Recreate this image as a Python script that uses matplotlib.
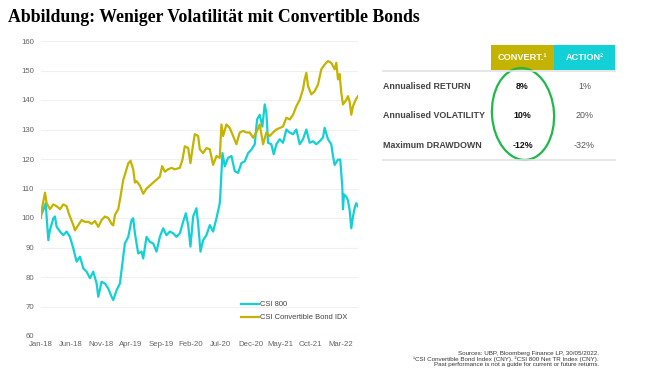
import matplotlib.pyplot as plt
from matplotlib.patches import Ellipse, Rectangle
from matplotlib.lines import Line2D

# months since Jan-18
conv_months = [0, 0.11, 0.67, 0.94, 1.5, 2.06, 2.61, 3.17, 3.72, 4.28, 4.56, 4.83, 5.39, 5.67,
               6.22, 6.78, 7.33, 7.89, 8.44, 9.0, 9.56, 10.11, 10.67, 11.22, 11.78, 12.06, 12.33,
               12.89, 13.28, 13.72, 14.0, 14.56, 14.94, 15.39, 15.67, 15.94, 16.5, 17.06, 17.61,
               18.17, 18.72, 19.28, 19.83, 20.22, 20.67, 21.22, 21.78, 22.33, 23.17, 23.61, 24.0,
               24.56, 24.94, 25.39, 25.67, 26.22, 26.5, 27.06, 27.61, 28.17, 28.72, 29.28, 29.83,
               30.11, 30.39, 30.94, 31.5, 32.06, 32.61, 33.17, 33.72, 34.28, 34.83, 35.39, 35.94,
               36.5, 37.06, 37.61, 38.17, 38.72, 39.28, 39.83, 40.39, 40.94, 41.5, 42.06, 42.61,
               43.17, 43.72, 44.0, 44.28, 44.56, 45.11, 45.67, 46.22, 46.78, 47.33, 47.89, 48.44,
               49.0, 49.28, 49.56, 49.83, 50.11, 50.39, 50.94, 51.22, 51.5, 51.78, 52.06, 52.5, 52.89]
conv_values = [100, 102.7, 108.6, 105, 103, 104.6, 104, 103, 104.6, 104, 102, 100.5, 97.6, 95.8,
               97.6, 99.3, 98.7, 98.7, 98, 99, 97, 99.3, 100.5, 100, 98, 97.5, 101,
               103, 107.4, 112.9, 114.7, 118.5, 119.4, 116.5, 112, 112.5, 111, 108.2, 110,
               111, 112, 113, 114, 117.6, 115.7, 116.5, 117, 116.5, 117, 119.8, 124.3,
               123.7, 118.6, 125, 128.4, 127.8, 123.3, 122, 123.7, 123.3, 118, 121, 120.4,
               131.7, 127.8, 131.7, 130.5, 127.8, 125, 129, 129.5, 129, 129, 127.2, 129,
               131.7, 125, 129, 127.8, 129, 130, 130.5, 131, 134, 133.4, 135, 137.9,
               140, 143.6, 147, 149.2, 144.7, 141.9, 143, 145.2, 150.4, 152, 153.2, 152.6,
               150.4, 152.6, 147, 148.8, 142.5, 138.5, 140, 141.3, 139.5, 135, 137.9, 140, 141.3]

csi_months = [0, 0.39, 0.78, 1.22, 1.5, 2.06, 2.33, 2.61, 3.17, 3.72, 4.28, 4.83, 5.39, 5.94,
              6.5, 7.06, 7.61, 8.17, 8.72, 9.28, 9.56, 10.11, 10.67, 11.22, 11.78, 12.06, 12.61,
              13.17, 13.72, 14.0, 14.56, 15.11, 15.39, 15.67, 16.22, 16.78, 17.06, 17.61, 18.17,
              18.72, 19.28, 19.83, 20.39, 20.94, 21.5, 22.06, 22.61, 23.17, 23.72, 24.17, 24.56,
              24.94, 25.39, 25.94, 26.22, 26.61, 27.06, 27.61, 28.17, 28.72, 29.28, 29.83, 29.94,
              30.28, 30.67, 31.22, 31.78, 32.33, 32.89, 33.44, 34.0, 34.56, 35.11, 35.67, 36.06,
              36.5, 36.94, 37.33, 37.61, 37.89, 38.44, 38.83, 39.28, 39.83, 40.39, 40.94, 41.5,
              42.06, 42.61, 43.17, 43.72, 44.28, 44.83, 45.39, 45.94, 46.5, 47.06, 47.33, 47.89,
              48.44, 48.72, 49.0, 49.56, 49.94, 50.28, 50.39, 50.56, 50.94, 51.22, 51.5, 51.78,
              52.06, 52.33, 52.61, 52.89]
csi_values = [101, 102.7, 105, 92.5, 96, 99.9, 100.5, 97, 95.4, 94.2, 95.4, 93.6, 89.7, 85.2,
              86.9, 82.9, 81.8, 79.6, 81.8, 77.8, 73.3, 78.4, 77.8, 76.1, 73.3, 72.2, 75.5,
              77.8, 86.9, 91.4, 93.6, 99.3, 99.9, 94.8, 88, 88.6, 86.3, 93.6, 91.9,
              91.4, 88.6, 93.6, 96.5, 94.2, 95.4, 94.8, 93.6, 94.8, 98.7, 101.6, 97.6,
              90.3, 100.5, 103.3, 98.2, 88.6, 92.5, 94.2, 97.6, 95.4, 99.9, 105, 108.4,
              122, 117.5, 120.4, 121, 115.9, 115.3, 118.6, 119.2, 122, 123.2, 125, 133.4,
              135, 131, 138.5, 135.7, 125.5, 125, 121.6, 125, 126.7, 125.5, 130, 129,
              128.4, 130, 125, 126.7, 130, 125.5, 126, 125, 126, 127.3, 130.6, 126.7,
              125, 121, 118, 119.8, 119.8, 110.5, 103, 108, 107.2, 106, 102.7, 96.5,
              100.5, 103.3, 105, 104]

x_tick_pos = [0, 5, 10, 15, 20, 25, 30, 35, 40, 45, 50]
x_tick_labels = ["Jan-18", "Jun-18", "Nov-18", "Apr-19", "Sep-19", "Feb-20",
                 "Jul-20", "Dec-20", "May-21", "Oct-21", "Mar-22"]
y_ticks = [60, 70, 80, 90, 100, 110, 120, 130, 140, 150, 160]

row_labels = ["Annualised RETURN", "Annualised VOLATILITY", "Maximum DRAWDOWN"]
convert_col = ["8%", "10%", "-12%"]
action_col = ["1%", "20%", "-32%"]

GOLD = "#c4b300"
CYAN = "#12d0d6"
W, H = 658, 387

plt.rcParams['font.family'] = ['Liberation Sans', 'DejaVu Sans']

fig = plt.figure(figsize=(W / 100, H / 100), dpi=100)
ax = fig.add_axes([41 / W, 1 - 336 / H, 317 / W, 295 / H])

ax.plot(csi_months, csi_values, color=CYAN, lw=1.6, label="CSI 800")
ax.plot(conv_months, conv_values, color=GOLD, lw=1.6, label="CSI Convertible Bond IDX")

ax.set_xlim(0, 52.9)
ax.set_ylim(60, 160)
ax.set_yticks(y_ticks)
ax.set_xticks(x_tick_pos)
ax.set_xticklabels(x_tick_labels)
ax.tick_params(length=0, labelsize=5.6, labelcolor="#636363")
ax.tick_params(axis="y", pad=5)
ax.tick_params(axis="x", pad=3.5)
ax.grid(axis="y", color="#f0f0f0", lw=0.8)
ax.set_axisbelow(True)
for s in ax.spines.values():
    s.set_visible(False)

ax.legend(loc="lower right", bbox_to_anchor=(0.965, 0.05), frameon=False, fontsize=5.4,
          handlelength=2.3, handletextpad=0.12, labelspacing=0.75, labelcolor="#404040",
          borderpad=0, borderaxespad=0)

fig.text(8 / W, 1 - 18 / H, "Abbildung: Weniger Volatilität mit Convertible Bonds",
         family="Liberation Serif", weight="bold", fontsize=12.8, va="center", ha="left")

# table drawn in pixel coords
tab = fig.add_axes([0, 0, 1, 1])
tab.set_xlim(0, W)
tab.set_ylim(H, 0)
tab.axis("off")
tab.patch.set_alpha(0)

tab.add_patch(Rectangle((491, 45), 63, 25, color=GOLD, lw=0))
tab.add_patch(Rectangle((554, 45), 61, 25, color=CYAN, lw=0))
tab.text(522.5, 58, "CONVERT.¹", color="white", weight="bold", fontsize=6.6,
         ha="center", va="center")
tab.text(584.5, 58, "ACTION²", color="white", weight="bold", fontsize=6.6,
         ha="center", va="center")
tab.add_line(Line2D([383, 615], [70.5, 70.5], color="#e2e2e2", lw=1.2))
tab.add_line(Line2D([383, 615], [160, 160], color="#e2e2e2", lw=1.2))

row_y = [86.7, 116, 145.7]
for y, lab, c, a in zip(row_y, row_labels, convert_col, action_col):
    tab.text(383, y, lab, color="#444444", weight="bold", fontsize=6.4, ha="left",
             va="center")
    tab.text(522.5, y, c, color="#111111", weight="bold", fontsize=6.4, ha="center",
             va="center")
    tab.text(584.5, y, a, color="#555555", fontsize=6.4, ha="center",
             va="center")

tab.add_patch(Ellipse((523, 114), 62, 92, angle=-4, fill=False, ec="#1fb84a", lw=1.6))

foot = ["Sources: UBP, Bloomberg Finance LP, 30/05/2022.",
        "¹CSI Convertible Bond Index (CNY). ²CSI 800 Net TR Index (CNY).",
        "Past performance is not a guide for current or future returns."]
for y, t in zip([353.2, 359, 364.8], foot):
    tab.text(599, y, t, color="#333333", fontsize=4.5, ha="right", va="center")

fig.savefig("out.png", dpi=100, facecolor="white")
